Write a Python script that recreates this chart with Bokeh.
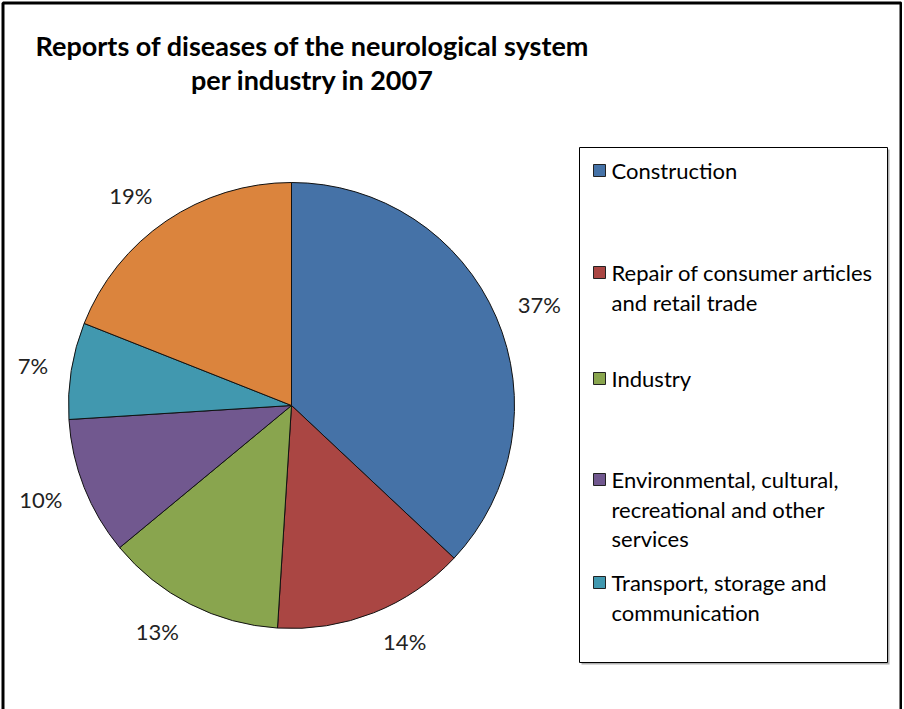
import math
from bokeh.plotting import figure
from bokeh.models import Range1d, ColumnDataSource
from bokeh.core.properties import value
from bokeh.embed import file_html
from bokeh.resources import INLINE

# ---- data ----
categories = [
    "Construction",
    "Repair of consumer articles\nand retail trade",
    "Industry",
    "Environmental, cultural,\nrecreational and other\nservices",
    "Transport, storage and\ncommunication",
    "Other",
]
shares = [37, 14, 13, 10, 7, 19]
colors = ["#4572A7", "#AA4643", "#89A54E", "#71588F", "#4198AF", "#DB843D"]
legend_count = 5
title_lines = ["Reports of diseases of the neurological system", "per industry in 2007"]

# ---- layout (page pixel coordinates) ----
W, H = 902, 709


def py(y):
    return H - y


p = figure(width=W, height=H, output_backend="svg", toolbar_location=None,
           x_range=Range1d(0, W), y_range=Range1d(0, H),
           x_axis_location=None, y_axis_location=None, min_border=0,
           background_fill_color="white", border_fill_color="white")
p.grid.visible = False
p.outline_line_color = None

# outer frame (bottom edge lies outside the picture)
p.line(x=[2.5, 2.5, 900.5, 900.5], y=[py(720), py(2.5), py(2.5), py(720)],
       line_color="black", line_width=3)

font = "Lato"

# title
title_y = [45, 79]
p.text(x=[312] * len(title_lines), y=[py(v) for v in title_y], text=title_lines,
       text_font=value(font), text_font_size="27px", text_font_style="bold",
       text_align="center", text_baseline="middle", text_color="black")

# pie
cx, cy, r = 291, py(405), 223
label_r = 245
total = float(sum(shares))
starts, ends, lx, ly, labels = [], [], [], [], []
acc = 0.0
for s in shares:
    a0 = math.pi / 2 - acc / total * 2 * math.pi
    acc += s
    a1 = math.pi / 2 - acc / total * 2 * math.pi
    starts.append(a0)
    ends.append(a1)
    mid = (a0 + a1) / 2
    lab = f"{round(s / total * 100)}%"
    w = 13 * (len(lab) - 1) + 20
    h = 18
    c, sn = math.cos(mid), math.sin(mid)
    lx.append(cx + label_r * c + math.copysign(w / 2, c))
    ly.append(cy + label_r * sn + (h / 2) * sn)
    labels.append(lab)

src = ColumnDataSource(dict(start=starts, end=ends, color=colors))
p.wedge(x=cx, y=cy, radius=r, start_angle="start", end_angle="end", direction="clock",
        fill_color="color", line_color="#111111", line_width=1, source=src)

p.text(x=lx, y=ly, text=labels, text_font=value(font), text_font_size="22px",
       text_align="center", text_baseline="middle", text_color="#222222")

# legend box
lx0, lx1, ly0, ly1 = 579, 887, 147, 662
p.quad(left=lx0 + 2, right=lx1 + 2, top=py(ly0 + 2), bottom=py(ly1 + 2), fill_color="#b0b0b0",
       line_color=None)
p.quad(left=lx0, right=lx1, top=py(ly0), bottom=py(ly1), fill_color="white",
       line_color="black", line_width=1)

entry_y = [170, 272, 378, 479, 582]
line_gap = 29.5
tys, txts = [], []
for i in range(legend_count):
    for j, line in enumerate(categories[i].split("\n")):
        tys.append(py(entry_y[i] + j * line_gap))
        txts.append(line)
p.rect(x=[599] * legend_count, y=[py(v) for v in entry_y], width=12, height=12,
       fill_color=colors[:legend_count], line_color="#222222", line_width=1)
p.text(x=[611] * len(txts), y=tys, text=txts, text_font=value(font),
       text_font_size="22px", text_align="left", text_baseline="middle",
       text_color="black")

open("out.html", "w").write(file_html(p, INLINE))
